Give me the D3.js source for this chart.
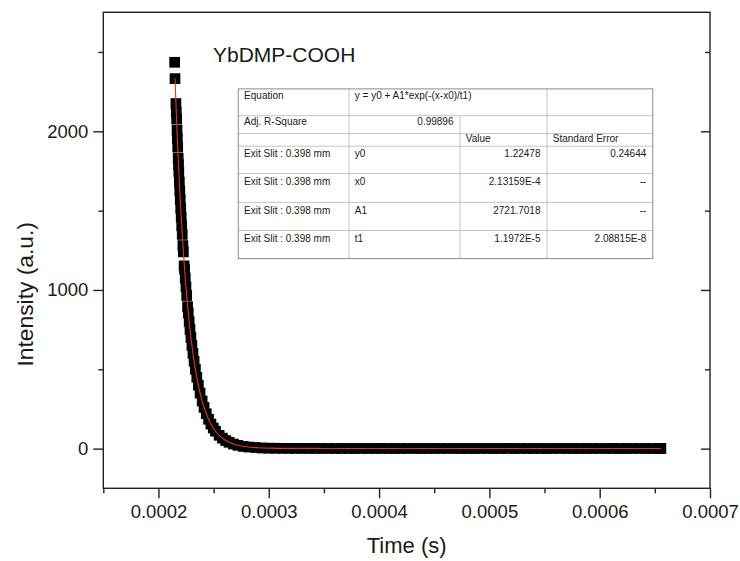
<!DOCTYPE html>
<html>
<head>
<meta charset="utf-8">
<script src="https://cdn.jsdelivr.net/npm/d3@7"></script>
<style>
  body { margin: 0; background: #fff; }
  text { font-family: "Liberation Sans", Arial, sans-serif; fill: #1a1a1a; }
</style>
</head>
<body>
<svg id="chart" width="740" height="561"></svg>
<script>
// measured decay, time in microseconds
const timeUs = [
  214.7, 215.0,
  215.84, 216.15, 216.5, 216.85, 217.12, 217.46, 217.9, 218.18, 218.45, 218.94, 219.33, 219.75, 220.17, 220.62,
  221.08, 221.55, 222.15, 222.57, 223.25, 223.68, 224.29, 224.92, 225.59, 226.4, 227.04, 227.84, 228.61, 229.44,
  230.33, 231.29, 232.33, 233.47, 234.74, 236.15, 237.76, 239.61, 241.33, 243.34, 245.43, 247.56, 249.69, 251.71,
  255, 258, 261, 264, 268, 272, 277, 282, 288, 294, 300,
  306, 312, 318, 324, 330, 336, 342, 348, 354, 360, 366, 372, 378, 384, 390, 396, 402, 408, 414, 420,
  426, 432, 438, 444, 450, 456, 462, 468, 474, 480, 486, 492, 498, 504, 510, 516, 522, 528, 534, 540,
  546, 552, 558, 564, 570, 576, 582, 588, 594, 600, 606, 612, 618, 624, 630, 636, 642, 648, 654, 655.5
]
const intensity = [
  2435, 2332,
  2175, 2120, 2078, 2008, 1955, 1900, 1830, 1790, 1745, 1680, 1625, 1570, 1515, 1460,
  1405, 1350, 1280, 1240, 1152, 1130, 1075, 1020, 965, 895, 855, 800, 750, 700,
  650, 600, 550, 500, 450, 400, 350, 300, 260, 220, 185, 155, 130, 110,
  84, 66, 51, 40, 29, 21, 14, 10, 7, 4, 3,
  2.4, 2, 1.8, 1.5, 1.6, 1.3, 1.4, 1.2, 1.3, 1, 1.4, 1.2, 1.1, 1.3, 1, 1.2, 1.4, 1.1, 1.2, 1,
  1.3, 1.2, 1.1, 1.2, 1.4, 1, 1.2, 1.3, 1.1, 1.2, 1, 1.3, 1.2, 1.1, 1.2, 1.4, 1, 1.2, 1.1, 1.3,
  1.2, 1, 1.2, 1.3, 1.1, 1.2, 1, 1.3, 1.2, 1.1, 1.2, 1.4, 1, 1.2, 1.1, 1.3, 1.2, 1, 1.2, 1.2
]

// fitted curve
const fitTimeUs = [215, 216, 217, 218, 219, 220, 222, 224, 226, 228, 230, 233, 236, 240, 245,
  250, 255, 260, 270, 280, 290, 300, 320, 350, 400, 500, 600, 655.5]
const fitIntensity = [2335, 2148, 1976, 1818, 1672, 1538, 1302, 1102, 932, 789, 668, 520, 405, 290, 192,
  127, 84, 56, 25, 11.5, 5.7, 3.1, 1.6, 1.3, 1.2, 1.2, 1.2, 1.2]

const xMajorTicks = [0.0002, 0.0003, 0.0004, 0.0005, 0.0006, 0.0007]
const xMinorTicks = [0.00015, 0.00025, 0.00035, 0.00045, 0.00055, 0.00065]
const yMajorTicks = [0, 1000, 2000]
const yMinorTicks = [500, 1500, 2500]

const chartTitle = "YbDMP-COOH"
const xLabel = "Time (s)"
const yLabel = "Intensity (a.u.)"

const tableRows = [
  ["Equation", "y = y0 + A1*exp(-(x-x0)/t1)", "", ""],
  ["Adj. R-Square", "0.99896", "", ""],
  ["", "", "Value", "Standard Error"],
  ["Exit Slit : 0.398 mm", "y0", "1.22478", "0.24644"],
  ["Exit Slit : 0.398 mm", "x0", "2.13159E-4", "--"],
  ["Exit Slit : 0.398 mm", "A1", "2721.7018", "--"],
  ["Exit Slit : 0.398 mm", "t1", "1.1972E-5", "2.08815E-8"]
]

const svg = d3.select("#chart")
const plotLeft = 103.3, plotRight = 710, plotTop = 12.3, plotBottom = 488.3

const x = d3.scaleLinear().domain([0.00015, 0.0007]).range([plotLeft, plotRight])
const y = d3.scaleLinear().domain([-250, 2750]).range([plotBottom, plotTop])

function styleAxis(g) {
  g.select(".domain").remove()
  g.selectAll(".tick line").attr("stroke", "#222").attr("stroke-width", 1.4)
  g.selectAll(".tick text").style("font-size", "18.5px").attr("fill", "#1a1a1a")
}

// bottom axis
svg.append("g").attr("transform", `translate(0,${plotBottom})`)
  .call(d3.axisBottom(x).tickValues(xMajorTicks).tickSize(10).tickPadding(7).tickFormat(d3.format(".4f")))
  .call(styleAxis)
svg.append("g").attr("transform", `translate(0,${plotBottom})`)
  .call(d3.axisBottom(x).tickValues(xMinorTicks).tickSize(5).tickFormat(""))
  .call(styleAxis)

// left axis
svg.append("g").attr("transform", `translate(${plotLeft},0)`)
  .call(d3.axisLeft(y).tickValues(yMajorTicks).tickSize(10).tickPadding(5).tickFormat(d3.format("d")))
  .call(styleAxis)
svg.append("g").attr("transform", `translate(${plotLeft},0)`)
  .call(d3.axisLeft(y).tickValues(yMinorTicks).tickSize(5).tickFormat(""))
  .call(styleAxis)

// right axis, ticks pointing inward
svg.append("g").attr("transform", `translate(${plotRight},0)`)
  .call(d3.axisLeft(y).tickValues(yMajorTicks).tickSize(9).tickFormat(""))
  .call(styleAxis)
svg.append("g").attr("transform", `translate(${plotRight},0)`)
  .call(d3.axisLeft(y).tickValues(yMinorTicks).tickSize(5).tickFormat(""))
  .call(styleAxis)

// frame
svg.append("rect")
  .attr("x", plotLeft).attr("y", plotTop)
  .attr("width", plotRight - plotLeft).attr("height", plotBottom - plotTop)
  .attr("fill", "none").attr("stroke", "#222").attr("stroke-width", 1.4)

// data squares
const points = timeUs.map((t, i) => ({ t: t * 1e-6, v: intensity[i] }))
const sq = 10.7
svg.append("g").selectAll("rect")
  .data(points)
  .enter()
  .append("rect")
  .attr("x", d => x(d.t) - sq / 2)
  .attr("y", d => y(d.v) - sq / 2)
  .attr("width", sq)
  .attr("height", sq)
  .attr("fill", "#000")

// fit line
const fitPoints = fitTimeUs.map((t, i) => ({ t: t * 1e-6, v: fitIntensity[i] }))
const line = d3.line().x(d => x(d.t)).y(d => y(d.v)).curve(d3.curveMonotoneX)
svg.append("path")
  .datum(fitPoints)
  .attr("d", line)
  .attr("fill", "none")
  .attr("stroke", "#e0352b")
  .attr("stroke-width", 1.1)

// title
svg.append("text").attr("x", 213).attr("y", 62)
  .style("font-size", "21px").text(chartTitle)

// axis labels
svg.append("text").attr("x", (plotLeft + plotRight) / 2).attr("y", 553)
  .attr("text-anchor", "middle").style("font-size", "22px").text(xLabel)
svg.append("text")
  .attr("transform", `translate(33,${(plotTop + plotBottom) / 2 + 44}) rotate(-90)`)
  .attr("text-anchor", "middle").style("font-size", "22.8px").text(yLabel)

// fit results table
const colX = [238.3, 349, 460, 547, 652.8]
const rowY = [88.9, 115.7, 133.6, 146.2, 173.6, 202.4, 230.5, 258.6]
const table = svg.append("g")

table.append("rect")
  .attr("x", colX[0]).attr("y", rowY[0])
  .attr("width", colX[4] - colX[0]).attr("height", rowY[7] - rowY[0])
  .attr("fill", "#fff")

rowY.slice(1, 7).forEach(ry => {
  table.append("line").attr("x1", colX[0]).attr("x2", colX[4])
    .attr("y1", ry).attr("y2", ry).attr("stroke", "#c4c4c4").attr("stroke-width", 1)
})
;[1, 3].forEach(c => {
  table.append("line").attr("x1", colX[c]).attr("x2", colX[c])
    .attr("y1", rowY[0]).attr("y2", rowY[7]).attr("stroke", "#c4c4c4").attr("stroke-width", 1)
})
table.append("line").attr("x1", colX[2]).attr("x2", colX[2])
  .attr("y1", rowY[1]).attr("y2", rowY[7]).attr("stroke", "#c4c4c4").attr("stroke-width", 1)

table.append("rect")
  .attr("x", colX[0]).attr("y", rowY[0])
  .attr("width", colX[4] - colX[0]).attr("height", rowY[7] - rowY[0])
  .attr("fill", "none").attr("stroke", "#8a8a8a").attr("stroke-width", 1)

const baseOffset = [9.6, 9.4, 8.7, 10.9, 11.6, 11.2, 11.8]
tableRows.forEach((row, r) => {
  row.forEach((cell, c) => {
    if (!cell) return
    const rightAlign = (r === 1 && c === 1) || (r >= 3 && c >= 2)
    table.append("text")
      .attr("x", rightAlign ? colX[c + 1] - 6.5 : colX[c] + 5.8)
      .attr("y", rowY[r] + baseOffset[r])
      .attr("text-anchor", rightAlign ? "end" : "start")
      .style("font-size", "10px")
      .attr("fill", "#222")
      .text(cell)
  })
})
</script>
</body>
</html>
